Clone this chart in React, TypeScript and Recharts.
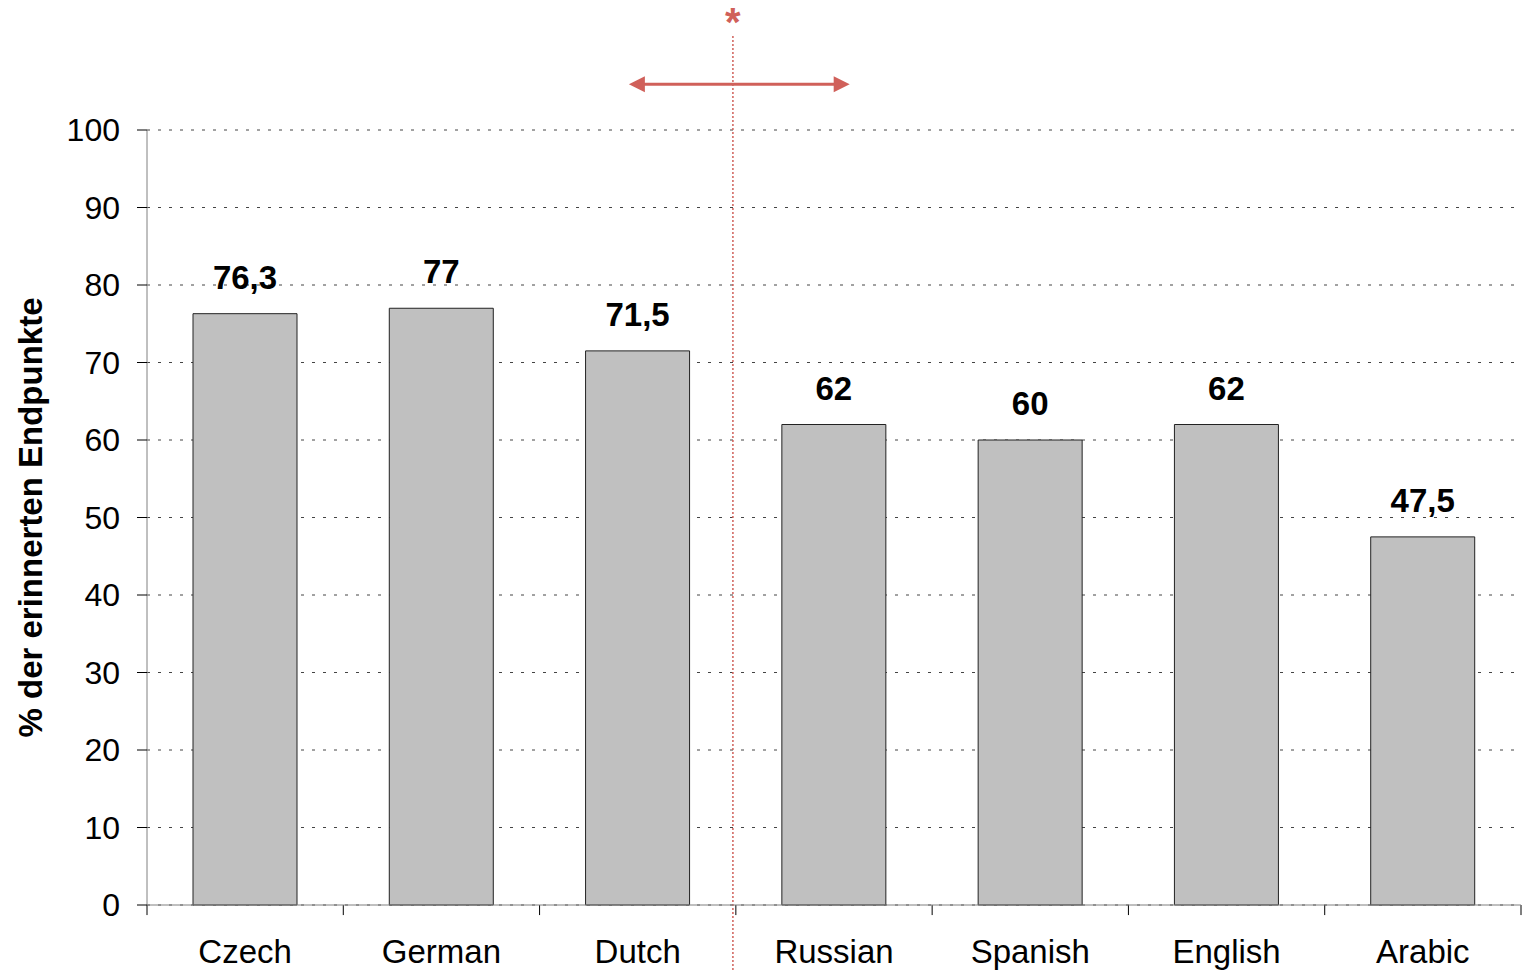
import React from "react";
import {
  BarChart,
  Bar,
  XAxis,
  YAxis,
  CartesianGrid,
  LabelList,
  ReferenceLine,
  ReferenceDot,
} from "recharts";

const languages = ["Czech", "German", "Dutch", "Russian", "Spanish", "English", "Arabic"];
const recalled = [76.3, 77, 71.5, 62, 60, 62, 47.5];
const yTicks = [0, 10, 20, 30, 40, 50, 60, 70, 80, 90, 100];
// category edges 0..7 on the hidden numeric axis (Excel-style ticks between bars)
const edges = languages.map((_, i) => i).concat(languages.length);
// group split between Dutch and Russian, with the range arrow spanning it
const splitAt = 2.985;
const arrowFrom = 2.455;
const arrowTo = 3.58;
const arrowLevel = 105.9;
const splitTop = 112.3;
const splitBottom = -8.4;
const starLevel = 113.9;

// pos = centre of each category on the numeric edge axis
const data = languages.map((name, i) => ({ name, value: recalled[i], pos: i + 0.5 }));

const FONT = "Arial, 'Liberation Sans', sans-serif";
const RED = "#D0605A";

const DoubleArrow = (props: any) => {
  const { x1, y1, x2 } = props;
  const head = 16;
  const half = 8;
  return (
    <g>
      <line x1={x1 + head - 2} y1={y1} x2={x2 - head + 2} y2={y1} stroke={RED} strokeWidth={3} />
      <polygon points={`${x1},${y1} ${x1 + head},${y1 - half} ${x1 + head},${y1 + half}`} fill={RED} />
      <polygon points={`${x2},${y1} ${x2 - head},${y1 - half} ${x2 - head},${y1 + half}`} fill={RED} />
    </g>
  );
};

export default function App() {
  return (
    <div style={{ position: "absolute", left: 0, top: 0, background: "#fff" }}>
      <BarChart
        width={1522}
        height={970}
        data={data}
        margin={{ top: 130, right: 1, bottom: 0, left: 0 }}
        style={{ fontFamily: FONT }}
      >
        <CartesianGrid vertical={false} stroke="#444" strokeDasharray="3 8" />
        <XAxis
          dataKey="name"
          height={65}
          axisLine={{ stroke: "#808080" }}
          tickLine={false}
          tickSize={10}
          tickMargin={25}
          tick={{ fill: "#000", fontSize: 33, fontFamily: FONT }}
          interval={0}
        />
        <XAxis
          xAxisId="edge"
          dataKey="pos"
          type="number"
          domain={[0, languages.length]}
          allowDataOverflow
          hide
        />
        <YAxis
          width={147}
          domain={[0, 100]}
          ticks={yTicks}
          interval={0}
          axisLine={{ stroke: "#808080" }}
          tickLine={{ stroke: "#000" }}
          tickSize={10}
          tickMargin={17}
          tick={{ fill: "#000", fontSize: 32, fontFamily: FONT }}
          label={{
            value: "% der erinnerten Endpunkte",
            angle: -90,
            position: "insideLeft",
            offset: 30,
            style: { textAnchor: "middle", fontSize: 33, fontWeight: "bold", fill: "#000", fontFamily: FONT },
          }}
        />
        <Bar dataKey="value" fill="#C0C0C0" stroke="#222" strokeWidth={1} barSize={104} isAnimationActive={false}>
          <LabelList
            dataKey="value"
            position="top"
            offset={25}
            formatter={(v: any) => String(v).replace(".", ",")}
            style={{ fontSize: 33, fontWeight: "bold", fill: "#000", fontFamily: FONT }}
          />
        </Bar>
        {edges.map((e) => (
          <ReferenceLine
            key={e}
            xAxisId="edge"
            segment={[{ x: e, y: 0 }, { x: e, y: -1.3 }]}
            stroke="#000"
            ifOverflow="visible"
          />
        ))}
        <ReferenceLine
          xAxisId="edge"
          segment={[{ x: splitAt, y: splitBottom }, { x: splitAt, y: splitTop }]}
          stroke={RED}
          strokeWidth={1.5}
          strokeDasharray="2 2"
          ifOverflow="visible"
        />
        <ReferenceLine
          xAxisId="edge"
          segment={[{ x: arrowFrom, y: arrowLevel }, { x: arrowTo, y: arrowLevel }]}
          ifOverflow="visible"
          shape={DoubleArrow}
        />
        <ReferenceDot
          xAxisId="edge"
          x={splitAt}
          y={starLevel}
          r={0}
          ifOverflow="visible"
          label={{ value: "*", position: "center", fill: RED, fontSize: 40, fontWeight: "bold", fontFamily: FONT }}
        />
      </BarChart>
    </div>
  );
}
